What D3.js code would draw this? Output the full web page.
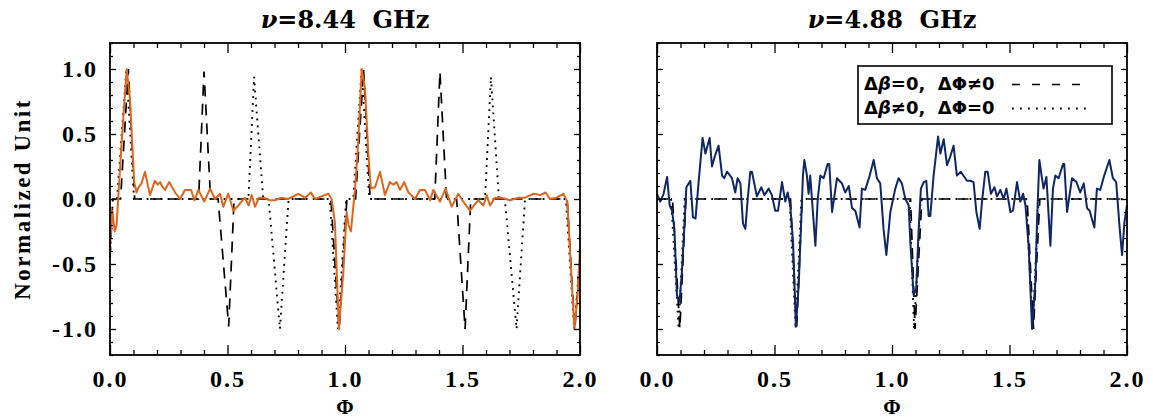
<!DOCTYPE html>
<html>
<head>
<meta charset="utf-8">
<script src="https://cdn.jsdelivr.net/npm/d3@7"></script>
<style>
  html, body { margin: 0; padding: 0; background: #fff; }
  svg { display: block; }
</style>
</head>
<body>
<svg id="chart" width="1153" height="420"></svg>
<script>
// ---------------- DATA ----------------
const panelTitles = ["8.44 GHz", "4.88 GHz"];
const xTickLabels = [0.0, 0.5, 1.0, 1.5, 2.0];
const yTickLabels = [1.0, 0.5, 0.0, -0.5, -1.0];
const legendLabels = ["dashed", "dotted"];

// 8.44 GHz observed profile (orange)
const obs844 = [
  [0.0,-0.37],[0.01,-0.09],[0.02,-0.25],[0.028,-0.2],[0.05,0.45],[0.071,1.0],[0.085,0.77],[0.103,0.13],
  [0.113,0.05],[0.118,0.08],[0.134,0.12],[0.149,0.21],[0.17,0.03],[0.191,0.14],[0.203,0.11],[0.213,0.13],
  [0.224,0.09],[0.234,0.07],[0.252,0.13],[0.277,0.05],[0.298,0.0],[0.319,0.07],[0.345,0.07],[0.359,-0.01],
  [0.376,0.07],[0.39,0.02],[0.401,-0.02],[0.426,0.08],[0.447,0.0],[0.468,0.04],[0.482,-0.06],[0.503,0.04],
  [0.525,-0.09],[0.546,-0.05],[0.574,0.01],[0.59,-0.05],[0.603,0.03],[0.617,-0.06],[0.634,0.01],[0.656,0.01],
  [0.68,-0.01],[0.702,-0.01],[0.73,0.01],[0.757,0.0],[0.78,0.02],[0.801,0.04],[0.83,0.01],[0.855,0.05],
  [0.872,0.0],[0.9,0.02],[0.929,0.04],[0.943,0.0],[0.957,-0.18],[0.974,-1.0],[0.993,-0.56],[1.007,-0.1],
  [1.015,-0.2],[1.025,-0.25],[1.043,0.08],[1.057,0.46],[1.071,1.0],[1.085,0.85],[1.1,0.33],[1.11,0.08],
  [1.128,0.09],[1.149,0.21],[1.17,0.03],[1.191,0.13],[1.206,0.11],[1.22,0.13],[1.234,0.07],[1.252,0.13],
  [1.27,0.05],[1.298,0.0],[1.319,0.07],[1.34,0.07],[1.362,-0.01],[1.376,0.07],[1.404,-0.02],[1.428,0.08],
  [1.454,-0.06],[1.482,0.04],[1.496,0.0],[1.511,-0.04],[1.532,-0.09],[1.553,-0.04],[1.567,-0.01],[1.589,-0.05],
  [1.603,0.03],[1.617,-0.05],[1.638,0.01],[1.666,0.01],[1.702,-0.01],[1.738,0.01],[1.766,0.01],[1.801,0.04],
  [1.83,0.03],[1.854,0.05],[1.872,0.0],[1.9,0.01],[1.929,0.04],[1.946,-0.02],[1.976,-1.0],[1.99,-0.74],[2.0,-0.38]
];
// 8.44 GHz model: delta beta = 0, delta Phi != 0 (dashed)
const modelA844 = [
  [0,-0.45],[0.012,0],[0.045,0],[0.078,1.0],[0.105,0],[0.377,0],[0.40,0.98],[0.428,0],[0.46,0],[0.505,-0.98],
  [0.528,0],[0.94,0],[0.975,-1.0],[1.008,0],[1.045,0],[1.079,1.0],[1.107,0],[1.382,0],[1.404,0.98],[1.432,0],
  [1.475,0],[1.511,-1.0],[1.535,0],[1.945,0],[1.978,-1.0],[2.0,-0.45]
];
// 8.44 GHz model: delta beta != 0, delta Phi = 0 (dotted)
const modelB844 = [
  [0,-0.45],[0.012,0],[0.03,0],[0.07,1.0],[0.102,0],[0.589,0],[0.613,0.94],[0.652,0],[0.675,0],[0.723,-1.0],
  [0.76,0],[0.935,0],[0.97,-1.0],[1.005,0],[1.035,0],[1.071,1.0],[1.103,0],[1.596,0],[1.621,0.94],[1.655,0],
  [1.68,0],[1.73,-1.0],[1.766,0],[1.94,0],[1.975,-1.0],[2.0,-0.45]
];

// 4.88 GHz observed profile (navy)
const obs488 = [
  [0.0,0.04],[0.014,-0.02],[0.028,0.04],[0.043,0.17],[0.054,-0.05],[0.064,-0.09],[0.074,-0.23],[0.085,-0.74],
  [0.096,-0.79],[0.106,-0.56],[0.116,-0.23],[0.125,0.09],[0.142,0.14],[0.153,-0.14],[0.164,-0.15],[0.177,0.13],
  [0.194,0.47],[0.206,0.35],[0.224,0.47],[0.234,0.25],[0.248,0.34],[0.262,0.41],[0.277,0.18],[0.286,0.16],
  [0.298,0.21],[0.319,0.16],[0.333,0.05],[0.343,0.16],[0.355,0.12],[0.366,-0.19],[0.376,-0.23],[0.386,0.0],
  [0.397,0.21],[0.404,0.21],[0.425,0.02],[0.444,0.09],[0.457,0.03],[0.475,0.08],[0.489,0.03],[0.503,-0.09],
  [0.515,-0.09],[0.532,0.13],[0.546,-0.02],[0.556,0.05],[0.567,-0.05],[0.579,-0.33],[0.591,-0.98],[0.603,-0.66],
  [0.613,-0.2],[0.621,0.18],[0.627,0.3],[0.638,0.18],[0.645,0.04],[0.652,0.18],[0.674,-0.36],[0.684,0.0],
  [0.695,0.18],[0.709,0.16],[0.726,0.27],[0.733,0.27],[0.745,-0.1],[0.766,0.16],[0.787,0.12],[0.801,0.05],
  [0.816,0.1],[0.83,-0.07],[0.844,-0.09],[0.862,-0.22],[0.872,0.08],[0.886,0.07],[0.905,0.18],[0.922,0.3],
  [0.936,0.16],[0.95,0.12],[0.964,-0.23],[0.976,-0.43],[0.993,-0.1],[1.014,0.08],[1.028,0.16],[1.042,0.12],
  [1.057,0.0],[1.071,-0.05],[1.078,-0.33],[1.092,-0.74],[1.103,-0.69],[1.113,-0.25],[1.123,0.08],[1.135,0.13],
  [1.146,0.14],[1.156,-0.13],[1.163,-0.13],[1.177,0.18],[1.196,0.48],[1.206,0.35],[1.22,0.46],[1.234,0.26],
  [1.245,0.31],[1.262,0.41],[1.276,0.18],[1.293,0.21],[1.319,0.14],[1.333,0.14],[1.347,0.13],[1.359,-0.1],
  [1.373,-0.23],[1.383,-0.02],[1.397,0.21],[1.407,0.21],[1.421,0.04],[1.436,0.09],[1.447,0.02],[1.461,0.07],
  [1.475,0.0],[1.487,0.08],[1.504,-0.1],[1.515,-0.09],[1.532,0.13],[1.546,-0.02],[1.558,0.04],[1.568,-0.05],
  [1.582,-0.38],[1.596,-1.0],[1.61,-0.64],[1.617,-0.18],[1.627,0.3],[1.638,0.16],[1.645,0.08],[1.657,0.17],
  [1.674,-0.36],[1.685,0.08],[1.695,0.18],[1.709,0.16],[1.728,0.27],[1.733,0.27],[1.745,-0.1],[1.766,0.16],
  [1.785,0.13],[1.801,0.05],[1.816,0.12],[1.83,-0.07],[1.841,-0.09],[1.861,-0.22],[1.872,0.08],[1.886,0.07],
  [1.903,0.18],[1.925,0.3],[1.94,0.16],[1.954,0.13],[1.969,-0.23],[1.979,-0.43],[1.989,-0.18],[2.0,-0.05]
];
// 4.88 GHz model: delta beta = 0, delta Phi != 0 (dashed)
const modelA488 = [
  [0,0],[0.066,0],[0.097,-1.0],[0.123,0],[0.568,0],[0.594,-1.0],[0.618,0],[1.079,0],[1.098,-1.0],[1.127,0],
  [1.575,0],[1.602,-1.0],[1.629,0],[2.0,0]
];
// 4.88 GHz model: delta beta != 0, delta Phi = 0 (dotted)
const modelB488 = [
  [0,0],[0.06,0],[0.092,-1.0],[0.118,0],[0.564,0],[0.59,-1.0],[0.614,0],[1.075,0],[1.094,-1.0],[1.122,0],
  [1.571,0],[1.598,-1.0],[1.624,0],[2.0,0]
];

// ---------------- LAYOUT ----------------
const svg = d3.select("#chart");
const panels = [
  { x0: 110, x1: 580, title: panelTitles[0], obs: obs844, color: "#e0661c", mA: modelA844, mB: modelB844, yLabels: true },
  { x0: 657, x1: 1127, title: panelTitles[1], obs: obs488, color: "#0f2766", mA: modelA488, mB: modelB488, yLabels: false }
];
const yTop = 43, yBot = 355;
const serif = "'Liberation Serif', 'DejaVu Serif', serif";

const y = d3.scaleLinear().domain([-1.2, 1.2]).range([yBot, yTop]);

panels.forEach((p, i) => {
  const x = d3.scaleLinear().domain([0, 2]).range([p.x0, p.x1]);
  const g = svg.append("g");
  const line = d3.line().x(d => x(d[0])).y(d => y(d[1]));

  // models
  g.append("path").datum(p.mA).attr("d", line)
    .attr("fill", "none").attr("stroke", "#000").attr("stroke-width", 1.7)
    .attr("stroke-dasharray", "11,8");
  g.append("path").datum(p.mB).attr("d", line)
    .attr("fill", "none").attr("stroke", "#000").attr("stroke-width", 1.9)
    .attr("stroke-dasharray", "1.8,5.2");
  // observed
  g.append("path").datum(p.obs).attr("d", line)
    .attr("fill", "none").attr("stroke", p.color).attr("stroke-width", 2)
    .attr("stroke-linejoin", "round");

  // axes - ticks inward
  const minorX = d3.range(0, 2.0001, 0.1).map(v => +v.toFixed(2)).filter(v => Math.abs(v*2 - Math.round(v*2)) > 1e-6);
  const minorY = d3.range(-1.2, 1.2001, 0.1).map(v => +v.toFixed(2)).filter(v => Math.abs(v*2 - Math.round(v*2)) > 1e-6);
  const majorY = [-1.0, -0.5, 0.0, 0.5, 1.0];

  const axStyle = sel => { sel.select(".domain").remove(); sel.selectAll("line").attr("stroke", "#000").attr("stroke-width", 1.3); };
  const lblStyle = s => s.selectAll("text").attr("font-family", serif).attr("font-weight", "bold")
      .attr("font-size", 24).attr("fill", "#000").attr("letter-spacing", "2px");

  g.append("g").attr("transform", `translate(0,${yBot})`)
    .call(d3.axisBottom(x).tickValues(minorX).tickSize(-5).tickFormat("")).call(axStyle);
  g.append("g").attr("transform", `translate(0,${yBot})`)
    .call(d3.axisBottom(x).tickValues(xTickLabels).tickSize(-10).tickPadding(15).tickFormat(d3.format(".1f")))
    .call(axStyle).call(lblStyle);
  g.append("g").attr("transform", `translate(0,${yTop})`)
    .call(d3.axisTop(x).tickValues(minorX).tickSize(-5).tickFormat("")).call(axStyle);
  g.append("g").attr("transform", `translate(0,${yTop})`)
    .call(d3.axisTop(x).tickValues(xTickLabels).tickSize(-10).tickFormat("")).call(axStyle);

  g.append("g").attr("transform", `translate(${p.x0},0)`)
    .call(d3.axisLeft(y).tickValues(minorY).tickSize(-3).tickFormat("")).call(axStyle);
  g.append("g").attr("transform", `translate(${p.x0},0)`)
    .call(d3.axisLeft(y).tickValues(majorY).tickSize(-6).tickPadding(12)
      .tickFormat(p.yLabels ? (d => yTickLabels.includes(d) ? d3.format(".1f")(d).replace("−", "-") : "") : ""))
    .call(axStyle).call(lblStyle);
  g.append("g").attr("transform", `translate(${p.x1},0)`)
    .call(d3.axisRight(y).tickValues(minorY).tickSize(-3).tickFormat("")).call(axStyle);
  g.append("g").attr("transform", `translate(${p.x1},0)`)
    .call(d3.axisRight(y).tickValues(majorY).tickSize(-6).tickFormat("")).call(axStyle);

  // frame
  g.append("rect").attr("x", p.x0).attr("y", yTop).attr("width", p.x1 - p.x0).attr("height", yBot - yTop)
    .attr("fill", "none").attr("stroke", "#000").attr("stroke-width", 1.8);

  // title
  const t = g.append("text").attr("x", (p.x0 + p.x1) / 2).attr("y", 28).attr("text-anchor", "middle")
    .attr("font-family", "'DejaVu Serif', serif").attr("font-weight", "bold")
    .attr("font-size", 24).attr("fill", "#000");
  t.append("tspan").attr("font-style", "italic").text("ν");
  t.append("tspan").text("=" + p.title.replace(" ", "\u00a0\u00a0"));

  // x label
  g.append("text").attr("x", (p.x0 + p.x1) / 2).attr("y", 414).attr("text-anchor", "middle")
    .attr("font-family", serif).attr("font-weight", "bold").attr("font-size", 21).text("Φ");
});

// y label
svg.append("text").attr("transform", `translate(30,${(yTop + yBot) / 2}) rotate(-90)`)
  .attr("text-anchor", "middle").attr("font-family", serif).attr("font-weight", "bold")
  .attr("font-size", 23).attr("letter-spacing", "2.5px").text("Normalized Unit");

// legend
const lg = svg.append("g");
lg.append("rect").attr("x", 858).attr("y", 66).attr("width", 254).attr("height", 58)
  .attr("fill", "#fff").attr("stroke", "#000").attr("stroke-width", 1.6);
const legRows = [
  { parts: ["Δ", "β", "=0,\u00a0\u00a0ΔΦ≠0"], dash: "8,12", sw: 1.6, y: 90, ly: 84.5 },
  { parts: ["Δ", "β", "≠0,\u00a0\u00a0ΔΦ=0"], dash: "1.8,6.2", sw: 1.9, y: 114, ly: 108.5 }
];
legRows.forEach((r, i) => {
  const tx = lg.append("text").attr("x", 864).attr("y", r.y).attr("font-family", "'DejaVu Sans', sans-serif")
    .attr("font-weight", "bold").attr("font-size", 18).attr("fill", "#000").attr("data-series", legendLabels[i]);
  tx.append("tspan").text(r.parts[0]);
  tx.append("tspan").attr("font-style", "italic").text(r.parts[1]);
  tx.append("tspan").text(r.parts[2]);
  lg.append("line").attr("x1", 1012).attr("x2", 1092).attr("y1", r.ly).attr("y2", r.ly)
    .attr("stroke", "#000").attr("stroke-width", r.sw).attr("stroke-dasharray", r.dash);
});
</script>
</body>
</html>
